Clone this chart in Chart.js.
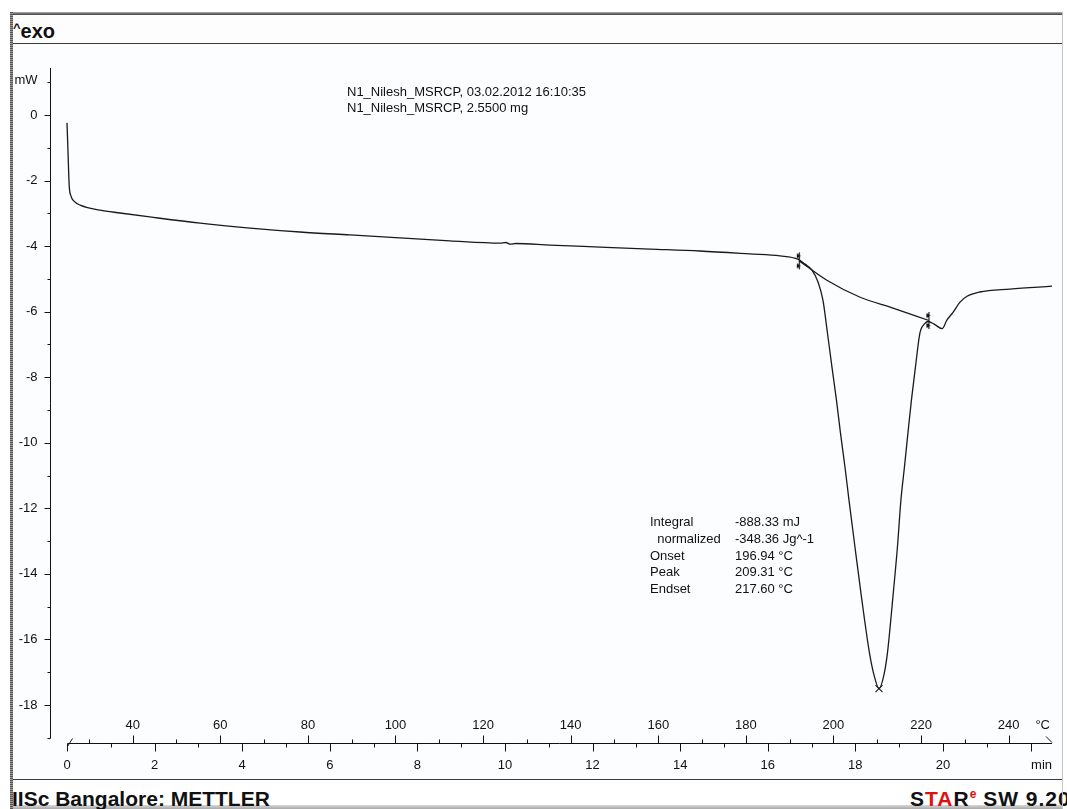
<!DOCTYPE html>
<html><head><meta charset="utf-8">
<script src="https://cdn.jsdelivr.net/npm/chart.js"></script>
<style>
html,body{margin:0;padding:0;background:#fff;}
body{width:1067px;height:809px;position:relative;overflow:hidden;font-family:"Liberation Sans",Arial,sans-serif;color:#111;}
.abs{position:absolute;}
#frameTop{left:10px;top:12px;width:1053px;height:3px;background:linear-gradient(#b0b0b0,#3a3a3a);}
#frameLeft{left:10px;top:12px;width:3px;height:797px;background:repeating-linear-gradient(#555 0 1px,#999 1px 2px);}
#frameRight{left:1062px;top:12px;width:1px;height:797px;background:#c4c4c4;}
#header{left:13px;top:15px;width:1049px;height:28px;background:#fdfdfd;border-bottom:1px solid #3a3a3a;}
#exo{left:0px;top:1px;font-weight:bold;font-size:20px;line-height:24px;white-space:pre;}
#exo .c{font-size:13px;vertical-align:6px;}
#plotbox{left:13px;top:44px;width:1049px;height:735px;background:#fcfdff;border-bottom:1px solid #3a3a3a;}
#cv{left:13px;top:44px;}
#bottomBar{left:10px;top:805px;width:1053px;height:4px;background:linear-gradient(#d8d8d8,#a8a8a8);}
#footer{left:13px;top:780px;width:1054px;height:29px;overflow:hidden;}
#lab{left:-1px;top:5px;font-weight:bold;font-size:21px;line-height:28px;white-space:pre;}
#star{left:897px;top:5px;font-weight:bold;font-size:21px;line-height:28px;white-space:pre;letter-spacing:1px;}
#star .r{color:#e01010;}
#star sup{font-size:12px;vertical-align:8px;line-height:0;letter-spacing:0;}
.ann{font-size:13px;line-height:16px;white-space:pre;}
.tab{font-size:13px;line-height:16.75px;white-space:pre;}
</style></head>
<body>
<div id="frameTop" class="abs"></div>
<div id="header" class="abs"><div id="exo" class="abs"><span class="c">^</span>exo</div></div>
<div id="plotbox" class="abs"></div>
<canvas id="cv" class="abs" width="1049" height="735"></canvas>
<div id="bottomBar" class="abs"></div>
<div id="footer" class="abs"><div id="lab" class="abs">IISc Bangalore: METTLER</div><div id="star" class="abs">S<span class="r">TA</span>R<sup class="r">e</sup> SW 9.20</div></div>
<div id="frameLeft" class="abs"></div>
<div id="frameRight" class="abs"></div>
<div class="abs ann" style="left:347px;top:84px;">N1_Nilesh_MSRCP, 03.02.2012 16:10:35
N1_Nilesh_MSRCP, 2.5500 mg</div>
<div class="abs tab" style="left:650px;top:514px;">Integral
  normalized
Onset
Peak
Endset</div>
<div class="abs tab" style="left:735px;top:514px;">-888.33 mJ
-348.36 Jg^-1
196.94 °C
209.31 °C
217.60 °C</div>
<script>
// ---- data (time in min, heat flow in mW) ----
const timeMin = [0,0.02,0.05,0.09,0.16,0.30,0.75,1.21,1.89,3.04,4.18,5.32,6.46,7.60,8.74,9.89,10.02,10.12,10.25,11.03,12.17,13.31,14.45,15.59,16.28,16.69,16.85,17.01,17.15,17.26,17.363,17.466,17.568,17.660,17.763,17.854,17.991,18.139,18.322,18.425,18.54,18.653,18.733,18.858,18.961,19.041,19.121,19.201,19.281,19.372,19.475,19.59,19.66,19.80,19.98,20.09,20.23,20.39,20.55,20.84,21.53,22.51];
const heatFlow = [-0.24,-1.0,-2.14,-2.47,-2.63,-2.75,-2.90,-2.99,-3.11,-3.30,-3.45,-3.57,-3.66,-3.75,-3.84,-3.91,-3.89,-3.94,-3.92,-3.97,-4.03,-4.09,-4.15,-4.24,-4.30,-4.40,-4.55,-4.73,-5.10,-5.65,-6.65,-7.69,-8.69,-9.70,-10.74,-11.74,-13.18,-14.70,-16.41,-17.08,-17.50,-17.08,-16.41,-14.70,-13.18,-11.74,-10.74,-9.70,-8.69,-7.69,-6.65,-6.36,-6.30,-6.38,-6.52,-6.26,-6.02,-5.71,-5.53,-5.40,-5.31,-5.22];
const baseTime = [16.72,17.35,18.11,18.86,19.68];
const baseFlow = [-4.45,-5.04,-5.56,-5.89,-6.27];
const limitTime = [16.72,19.68];
const limitFlow = [-4.45,-6.27];
const peakTime = [18.54];
const peakFlow = [-17.50];
// ---- tick labels ----
const yTickValues = [0,-2,-4,-6,-8,-10,-12,-14,-16,-18];
const yTickLabels = ['0','-2','-4','-6','-8','-10','-12','-14','-16','-18'];
const yUnitLabel = 'mW';
const timeTickValues = [0,2,4,6,8,10,12,14,16,18,20];
const timeTickLabels = ['0','2','4','6','8','10','12','14','16','18','20'];
const timeUnitLabel = 'min';
const tempTickValues = [40,60,80,100,120,140,160,180,200,220,240];
const tempTickLabels = ['40','60','80','100','120','140','160','180','200','220','240'];
const tempUnitLabel = '°C';
const heatingRate = 10, startTemp = 25; // °C/min, °C at t=0

function pts(xs, ys){ return xs.map((v,i)=>({x:v,y:ys[i]})); }

// limit marker glyph
const mk = document.createElement('canvas'); mk.width=9; mk.height=19;
(function(){ const c=mk.getContext('2d'); c.fillStyle='#111'; c.strokeStyle='#111'; c.lineWidth=1.2;
  c.beginPath(); c.moveTo(4.5,1); c.lineTo(4.5,18); c.stroke();
  c.beginPath(); c.moveTo(2,2); c.lineTo(6,4.5); c.lineTo(2,7); c.closePath(); c.fill();
  c.beginPath(); c.moveTo(2,12); c.lineTo(6,14.5); c.lineTo(2,17); c.closePath(); c.fill();
})();

const F = '13px "Liberation Sans", Arial, sans-serif';
const axesPlugin = {
  id:'dscAxes',
  afterDatasetsDraw(chart){
    const {ctx, chartArea:a, scales:{x,y}} = chart;
    ctx.save();
    ctx.strokeStyle='#111'; ctx.fillStyle='#111'; ctx.lineWidth=1; ctx.font=F;
    const L=(x1,y1,x2,y2)=>{ctx.beginPath();ctx.moveTo(x1,y1);ctx.lineTo(x2,y2);ctx.stroke();};
    // y axis
    const yx = Math.round(a.left)+0.5;
    L(yx, a.top, yx, Math.round(y.getPixelForValue(-19))+0.5);
    for(let v=-19; v<=1; v++){
      const py=Math.round(y.getPixelForValue(v))+0.5;
      L(yx-(v%2===0?6:3), py, yx, py);
    }
    ctx.textAlign='right'; ctx.textBaseline='middle';
    yTickValues.forEach((v,i)=>ctx.fillText(yTickLabels[i], yx-13, y.getPixelForValue(v)));
    ctx.fillText(yUnitLabel, yx-13, y.getPixelForValue(1)-2);
    // x axis (time below, temperature above)
    const by = Math.round(a.bottom)+0.5;
    const x0 = Math.round(x.getPixelForValue(0))+0.5;
    L(x0, by, a.right, by);
    L(x0, by+3, x0+5, by-5);          // break mark
    L(a.right-6, by-7, a.right, by-1); // arrow
    for(let t=0; t<=22; t++){
      const px=Math.round(x.getPixelForValue(t))+0.5;
      L(px, by, px, by+(t%2===0?8:4));
    }
    for(let T=30; T<=240; T+=10){
      const px=Math.round(x.getPixelForValue((T-startTemp)/heatingRate))+0.5;
      L(px, by, px, by-((T%20===0)?8:4));
    }
    ctx.textAlign='center'; ctx.textBaseline='middle';
    timeTickValues.forEach((v,i)=>ctx.fillText(timeTickLabels[i], x.getPixelForValue(v), by+22));
    tempTickValues.forEach((v,i)=>ctx.fillText(tempTickLabels[i], x.getPixelForValue((v-startTemp)/heatingRate), by-18));
    ctx.textAlign='right';
    ctx.fillText(timeUnitLabel, a.right, by+22);
    ctx.fillText(tempUnitLabel, a.right-2, by-18);
    ctx.restore();
  }
};

new Chart(document.getElementById('cv'), {
  type:'scatter',
  data:{datasets:[
    {data:pts(timeMin,heatFlow), showLine:true, borderColor:'#1a1a1a', borderWidth:1.3, pointRadius:0, cubicInterpolationMode:'monotone'},
    {data:pts(baseTime,baseFlow), showLine:true, borderColor:'#1a1a1a', borderWidth:1.3, pointRadius:0, cubicInterpolationMode:'monotone'},
    {data:pts(limitTime,limitFlow), showLine:false, pointStyle:mk, pointRadius:5},
    {data:pts(peakTime,peakFlow), showLine:false, pointStyle:'crossRot', pointRadius:5, borderColor:'#222', borderWidth:1.2}
  ]},
  options:{
    responsive:false, animation:false, devicePixelRatio:1,
    layout:{padding:{left:37, top:24, right:10, bottom:36}},
    plugins:{legend:{display:false}, tooltip:{enabled:false}},
    scales:{
      x:{type:'linear', display:false, min:-0.388, max:22.49},
      y:{type:'linear', display:false, min:-19.16, max:1.434}
    }
  },
  plugins:[axesPlugin]
});
</script>
</body></html>
